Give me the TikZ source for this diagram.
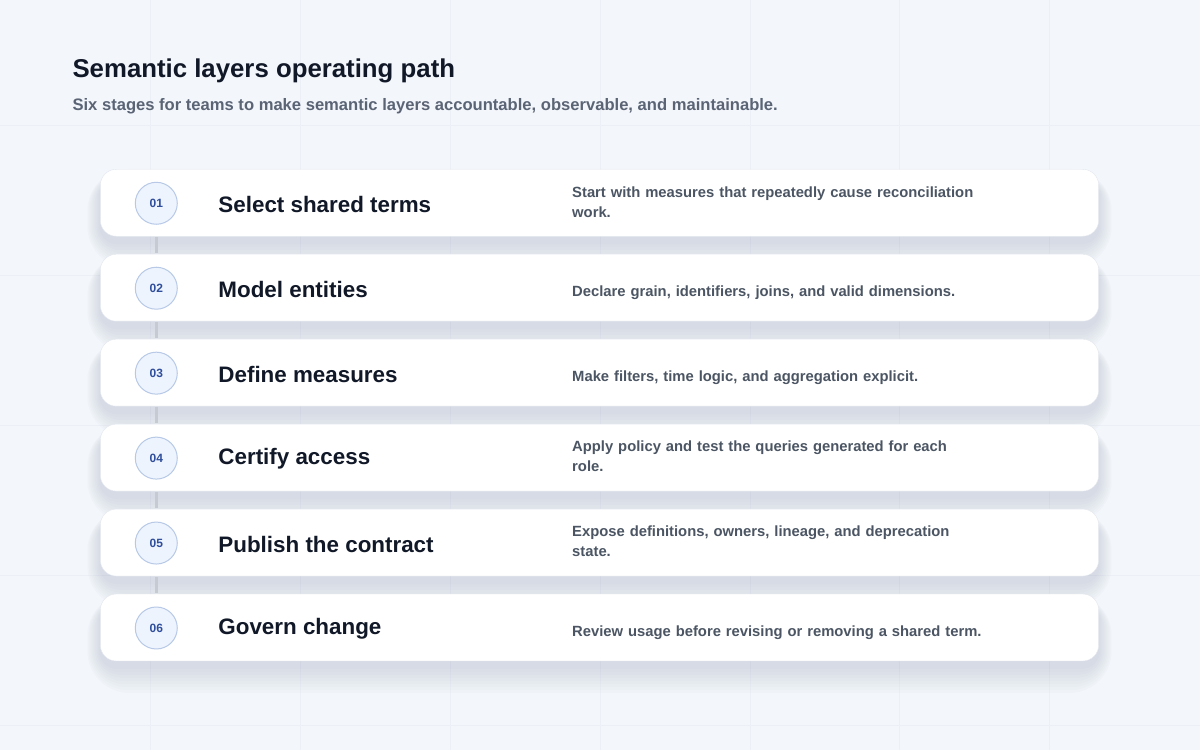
\documentclass[tikz,border=0pt]{standalone}
\usepackage{fontspec}
\setmainfont{Liberation Sans}
\usetikzlibrary{positioning}

\definecolor{pagebg}{HTML}{F3F6FB}
\definecolor{gridln}{HTML}{ECF0F6}
\definecolor{titlecol}{HTML}{111827}
\definecolor{subcol}{HTML}{5A6475}
\definecolor{desccol}{HTML}{4B5563}
\definecolor{numcol}{HTML}{2F4E9C}
\definecolor{numfill}{HTML}{EEF4FE}
\definecolor{numdraw}{HTML}{B7C9E6}
\definecolor{cardline}{HTML}{E3E7EE}
\definecolor{shadowcol}{HTML}{55648A}
\definecolor{linkcol}{HTML}{C6CAD2}

\tikzset{
  card/.style={draw=cardline, fill=white, rounded corners=16pt,
    minimum width=999pt, minimum height=67pt, inner sep=0pt},
  numdot/.style={circle, draw=numdraw, fill=numfill, line width=1pt,
    minimum size=42pt, inner sep=0pt, text=numcol,
    font=\fontsize{12}{12}\selectfont\bfseries},
  steptitle/.style={anchor=west, inner sep=0pt, text=titlecol,
    font=\fontsize{22.4}{26}\selectfont\bfseries},
  stepdesc/.style={anchor=west, inner sep=0pt, text=desccol, align=left,
    text width=440pt, font=\fontsize{14.8}{20}\selectfont\bfseries},
  link/.style={draw=linkcol, line width=3pt},
}

\begin{document}
\begin{tikzpicture}[x=1pt, y=-1pt]

	% --- Page background and faint grid ---
	\fill[pagebg] (0,0) rectangle (1200,750);
	\foreach \gx in {150,300,...,1050} {
		\draw[gridln, line width=0.8pt] (\gx,0) -- (\gx,750);
	}
	\foreach \gy in {125,275,...,725} {
		\draw[gridln, line width=0.8pt] (0,\gy) -- (1200,\gy);
	}
	\useasboundingbox (0,0) rectangle (1200,750);

	% Heading
	\node[anchor=west, inner sep=0pt, text=titlecol,
	  font=\fontsize{25.8}{30}\selectfont\bfseries] (head) at (72,70.5)
	  {Semantic layers operating path};
	\node[anchor=west, inner sep=0pt, text=subcol,
	  font=\fontsize{16.6}{20}\selectfont\bfseries] (subhead) at (72,106)
	  {Six stages for teams to make semantic layers accountable, observable, and maintainable.};

	\def\cardTop{202.5} % centre of the first card
	\def\cardGap{85}    % distance between card centres

	% Soft shadows below the cards
	\foreach \i in {0,...,5} {
		\foreach \k in {2,5,...,26} {
			\fill[shadowcol, opacity=0.02, rounded corners=16pt+\k pt]
			  (100-\k*0.5, \cardTop+\i*\cardGap-33.5-\k*0.4+10) rectangle
			  (1099+\k*0.5, \cardTop+\i*\cardGap+33.5+\k+6);
		}
	}

	% Cards: number, title and description
	\foreach \i/\title/\desc/\dy in {
		1/{Select shared terms}/{Start with measures that repeatedly cause reconciliation\\work.}/-1,
		2/{Model entities}/{Declare grain, identifiers, joins, and valid dimensions.}/5,
		3/{Define measures}/{Make filters, time logic, and aggregation explicit.}/5,
		4/{Certify access}/{Apply policy and test the queries generated for each\\role.}/-1,
		5/{Publish the contract}/{Expose definitions, owners, lineage, and deprecation\\state.}/-1,
		6/{Govern change}/{Review usage before revising or removing a shared term.}/5} {
		\node[card] (C\i) at (599.5, \cardTop+\i*\cardGap-\cardGap) {};
		\node[numdot] (N\i) at (156, \cardTop+\i*\cardGap-\cardGap+0.5) {0\i};
		\node[steptitle] (T\i) at (218, \cardTop+\i*\cardGap-\cardGap+1.5) {\title};
		\node[stepdesc] (D\i) at (572, \cardTop+\i*\cardGap-\cardGap+\dy) {\desc};
	}

	% Short links between the cards
	\foreach \i in {1,...,5} {
		\pgfmathtruncatemacro{\j}{\i+1}
		\draw[link] ([yshift=-1pt]N\i |- C\i.south) -- ([yshift=1pt]N\j |- C\j.north);
	}

\end{tikzpicture}
\end{document}
